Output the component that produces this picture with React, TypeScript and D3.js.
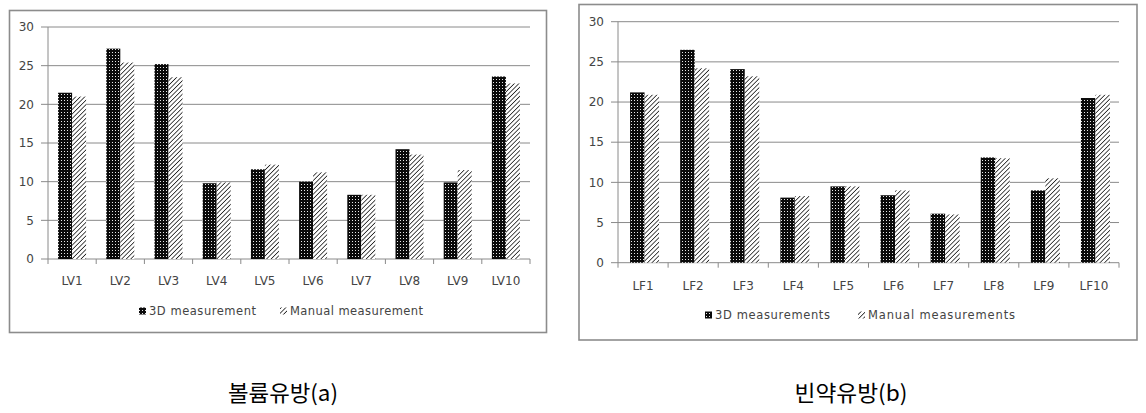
import React from "react";
import * as d3 from "d3";

// ---- Data ----
const categoriesA = ["LV1", "LV2", "LV3", "LV4", "LV5", "LV6", "LV7", "LV8", "LV9", "LV10"];
const measured3DA = [21.5, 27.2, 25.2, 9.8, 11.6, 10.0, 8.3, 14.2, 9.9, 23.6];
const manualA = [21.0, 25.4, 23.5, 9.9, 12.2, 11.2, 8.3, 13.5, 11.5, 22.7];

const categoriesB = ["LF1", "LF2", "LF3", "LF4", "LF5", "LF6", "LF7", "LF8", "LF9", "LF10"];
const measured3DB = [21.2, 26.5, 24.1, 8.1, 9.5, 8.4, 6.1, 13.1, 9.0, 20.5];
const manualB = [20.9, 24.2, 23.2, 8.3, 9.5, 9.0, 6.0, 13.0, 10.5, 20.9];

const yTicks = [0, 5, 10, 15, 20, 25, 30];
const legendA = ["3D measurement", "Manual measurement"];
const legendB = ["3D measurements", "Manual measurements"];
const captionA = "볼륨유방(a)";
const captionB = "빈약유방(b)";

const FONT = "'DejaVu Sans', Verdana, sans-serif";

type Layout = {
  frame: [number, number, number, number];
  left: number;
  right: number;
  top: number;
  bottom: number;
  barW: number;
  barShift: number;
  labelY: number;
  legendY: number;
  legend1X: number;
  legend1W: number;
  legend2X: number;
  legend2W: number;
  caption: { x: number; y: number; w: number };
};

const layoutA: Layout = {
  frame: [9.5, 10.5, 537, 322],
  left: 48,
  right: 530,
  top: 27,
  bottom: 259,
  barW: 14,
  barShift: 0,
  labelY: 281,
  legendY: 311,
  legend1X: 139,
  legend1W: 107,
  legend2X: 280,
  legend2W: 133,
  caption: { x: 283, y: 401, w: 110 },
};

const layoutB: Layout = {
  frame: [579, 4.5, 558, 335.5],
  left: 618,
  right: 1119,
  top: 21.7,
  bottom: 262.7,
  barW: 14.5,
  barShift: 1.5,
  labelY: 286,
  legendY: 315,
  legend1X: 705,
  legend1W: 115,
  legend2X: 858,
  legend2W: 147,
  caption: { x: 851, y: 401, w: 113 },
};

function Chart({
  id,
  L,
  cats,
  s1,
  s2,
  legend,
  caption,
}: {
  id: string;
  L: Layout;
  cats: string[];
  s1: number[];
  s2: number[];
  legend: string[];
  caption: string;
}) {
  const x = d3.scaleBand<string>().domain(cats).range([L.left, L.right]).padding(0);
  const y = d3.scaleLinear().domain([0, 30]).range([L.bottom, L.top]);
  const bw = x.bandwidth();
  const grid = "#8a8a8a";
  const [fx, fy, fw, fh] = L.frame;
  return (
    <g>
      <rect x={fx} y={fy} width={fw} height={fh} fill="#fff" stroke="#8c8c8c" strokeWidth={1.6} />
      {yTicks.map((t) => (
        <g key={t}>
          <line x1={L.left - 7} x2={L.right} y1={y(t)} y2={y(t)} stroke={grid} strokeWidth={1} />
          <text
            x={L.left - 14}
            y={y(t)}
            dy="0.35em"
            textAnchor="end"
            fontFamily={FONT}
            fontSize={12}
            fill="#444"
          >
            {t}
          </text>
        </g>
      ))}
      <line x1={L.left} x2={L.left} y1={L.top} y2={L.bottom} stroke={grid} />
      {d3.range(cats.length + 1).map((i) => {
        const xx = L.left + i * bw;
        return <line key={i} x1={xx} x2={xx} y1={L.bottom} y2={L.bottom + 5} stroke={grid} />;
      })}
      {cats.map((c, i) => {
        const cx = (x(c) as number) + bw / 2 + L.barShift;
        return (
          <g key={c}>
            <rect
              x={cx - L.barW}
              y={y(s1[i])}
              width={L.barW}
              height={y(0) - y(s1[i])}
              fill={`url(#dots-${id})`}
            />
            <rect
              x={cx}
              y={y(s2[i])}
              width={L.barW}
              height={y(0) - y(s2[i])}
              fill={`url(#hatch-${id})`}
            />
            <text
              x={cx - L.barShift}
              y={L.labelY}
              dy="0.35em"
              textAnchor="middle"
              fontFamily={FONT}
              fontSize={12}
              fill="#444"
            >
              {c}
            </text>
          </g>
        );
      })}
      {/* legend */}
      <rect x={L.legend1X} y={L.legendY - 3.5} width={7} height={7} fill={`url(#dots-${id})`} />
      <text
        x={L.legend1X + 10}
        y={L.legendY}
        dy="0.35em"
        fontFamily={FONT}
        fontSize={11.5}
        fill="#444"
        textLength={L.legend1W}
        lengthAdjust="spacing"
      >
        {legend[0]}
      </text>
      <rect x={L.legend2X} y={L.legendY - 3.5} width={7} height={7} fill={`url(#hatch-${id})`} />
      <text
        x={L.legend2X + 10}
        y={L.legendY}
        dy="0.35em"
        fontFamily={FONT}
        fontSize={11.5}
        fill="#444"
        textLength={L.legend2W}
        lengthAdjust="spacing"
      >
        {legend[1]}
      </text>
      <text
        x={L.caption.x}
        y={L.caption.y}
        textAnchor="middle"
        fontFamily="'Noto Sans CJK KR', sans-serif"
        fontSize={22}
        fill="#000"
        textLength={L.caption.w}
        lengthAdjust="spacingAndGlyphs"
      >
        {caption}
      </text>
    </g>
  );
}

export default function App() {
  return (
    <svg
      width={1146}
      height={413}
      style={{ position: "absolute", left: 0, top: 0, background: "#fff" }}
    >
      <defs>
        {["a", "b"].map((id) => (
          <g key={id}>
            <pattern id={`dots-${id}`} width={3} height={3} patternUnits="userSpaceOnUse">
              <rect width={3} height={3} fill="#0a0a0a" />
              <rect x={1} y={1} width={1} height={1} fill="#e8e8e8" />
            </pattern>
            <pattern
              id={`hatch-${id}`}
              width={3.2}
              height={3.2}
              patternUnits="userSpaceOnUse"
              patternTransform="rotate(45)"
            >
              <rect width={3.2} height={3.2} fill="#fff" />
              <line x1={0} y1={0} x2={0} y2={3.2} stroke="#222" strokeWidth={1.6} />
            </pattern>
          </g>
        ))}
      </defs>
      <rect width={1146} height={413} fill="#fff" />
      <Chart id="a" L={layoutA} cats={categoriesA} s1={measured3DA} s2={manualA} legend={legendA} caption={captionA} />
      <Chart id="b" L={layoutB} cats={categoriesB} s1={measured3DB} s2={manualB} legend={legendB} caption={captionB} />
    </svg>
  );
}
